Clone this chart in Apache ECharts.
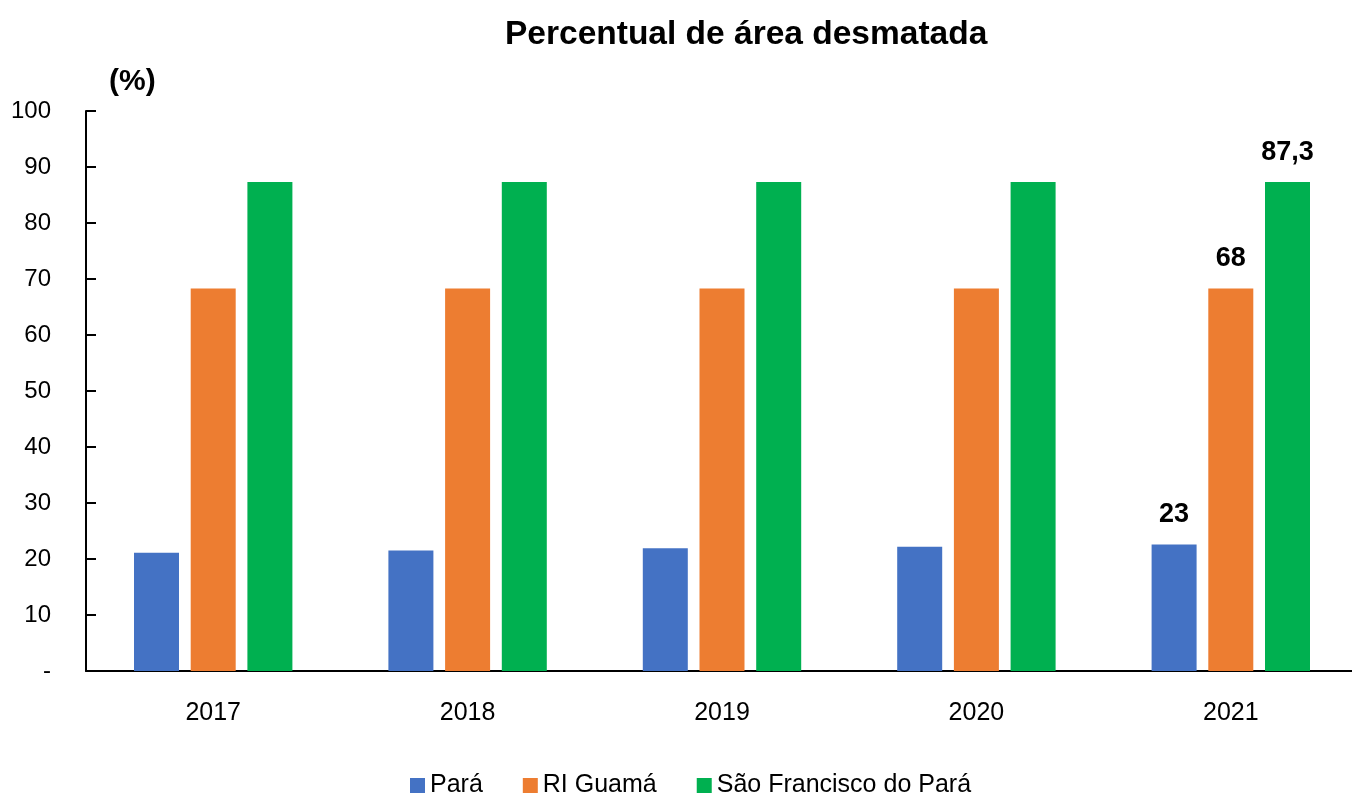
<!DOCTYPE html>
<html lang="pt">
<head>
    <meta charset="UTF-8">
    <title>Percentual de área desmatada</title>
    <script src="https://cdn.jsdelivr.net/npm/echarts@6/dist/echarts.min.js"></script>
    <style>
        body { margin: 0; background: #fff; overflow: hidden; }
    </style>
</head>
<body>
<!-- um pouco mais largo que a janela: o eixo x sai pela direita como no original -->
<div id="main" style="width: 1358px;height:795px;"></div>

<script type="text/javascript">
    // dados
    var anos = ['2017', '2018', '2019', '2020', '2021'];
    var para = [21.1, 21.5, 21.9, 22.2, 22.6];
    var riGuama = [68.3, 68.3, 68.3, 68.3, 68.3];
    var saoFrancisco = [87.3, 87.3, 87.3, 87.3, 87.3];
    var nomes = ['Pará', 'RI Guamá', 'São Francisco do Pará'];
    var cores = ['#4472C4', '#ED7D31', '#00B050'];

    var fonte = '"Liberation Sans Narrow", "Arial Narrow", "Liberation Sans", Arial, sans-serif';

    // só o último ano leva rótulo
    function comRotulo(valores, casas) {
        return valores.map(function (v, i) {
            if (i !== valores.length - 1) return v;
            return {
                value: v,
                label: {
                    show: true,
                    position: 'top',
                    distance: 16,
                    fontFamily: fonte,
                    fontWeight: 'bold',
                    fontSize: 27,
                    color: '#000',
                    formatter: function (p) {
                        return p.value.toFixed(casas).replace('.', ',');
                    }
                }
            };
        });
    }

    var myChart = echarts.init(document.getElementById('main'));
    var option = {
        color: cores,
        textStyle: { fontFamily: fonte },
        title: {
            text: 'Percentual de área desmatada',
            left: 500,
            top: 13,
            textStyle: { fontFamily: fonte, fontSize: 33.5, fontWeight: 'bold', color: '#000' }
        },
        graphic: [{
            type: 'text',
            left: 109,
            top: 67,
            style: { text: '(%)', fontFamily: fonte, fontSize: 30, fontWeight: 'bold', fill: '#000' }
        }],
        legend: {
            data: nomes,
            top: 768,
            left: 405,
            icon: 'rect',
            itemWidth: 15,
            itemHeight: 15,
            itemGap: 40,
            textStyle: { fontFamily: fonte, fontSize: 25, color: '#000' }
        },
        grid: {
            left: 86,
            right: 0,
            top: 111,
            bottom: 124
        },
        xAxis: {
            type: 'category',
            data: anos,
            axisLine: { lineStyle: { color: '#000', width: 2 } },
            axisTick: { inside: true, length: 10, lineStyle: { color: '#000', width: 2 } },
            axisLabel: { fontFamily: fonte, fontSize: 25, color: '#000', margin: 30 }
        },
        yAxis: {
            type: 'value',
            min: 0,
            max: 100,
            interval: 10,
            splitLine: { show: false },
            axisLine: { show: true, lineStyle: { color: '#000', width: 2 } },
            axisTick: { show: true, inside: true, length: 10, lineStyle: { color: '#000', width: 2 } },
            axisLabel: {
                fontFamily: fonte, fontSize: 24, color: '#000', margin: 35,
                formatter: function (v) { return v === 0 ? '-' : v; }
            }
        },
        series: [
            { name: nomes[0], type: 'bar', barWidth: 45, barGap: '26%', data: comRotulo(para, 0) },
            { name: nomes[1], type: 'bar', barWidth: 45, barGap: '26%', data: comRotulo(riGuama, 0) },
            { name: nomes[2], type: 'bar', barWidth: 45, barGap: '26%', data: comRotulo(saoFrancisco, 1) }
        ]
    };
    myChart.setOption(option);
</script>
</body>
</html>
